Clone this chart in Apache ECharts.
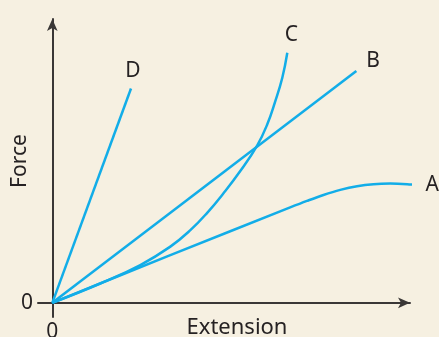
<!DOCTYPE html>
<html>
<head>
<meta charset="utf-8">
<style>
  html, body { margin: 0; padding: 0; background: #f6f0e1; }
  #chart { width: 439px; height: 337px; }
</style>
<script src="https://cdn.jsdelivr.net/npm/echarts@6/dist/echarts.min.js"></script>
</head>
<body>
<div id="chart"></div>
<script>
// Force–extension curves for four materials, [extension, force] pairs
const materialA = [[0, 0], [3.3, 1.68], [6.65, 3.36], [7.12, 3.59], [7.58, 3.8], [8.05, 3.98], [8.52, 4.11], [8.98, 4.18], [9.45, 4.2], [9.92, 4.18], [10.18, 4.15]];
const materialB = [[0, 0], [8.5, 8.17]];
const materialC = [[0, 0], [1.34, 0.68], [2.46, 1.33], [3.3, 1.98], [3.86, 2.56], [4.33, 3.17], [4.78, 3.85], [5.26, 4.65], [5.73, 5.55], [6.01, 6.29], [6.23, 7.09], [6.43, 7.93], [6.57, 8.81]];
const materialD = [[0, 0], [2.2, 7.55]];
const seriesNames = ['A', 'B', 'C', 'D'];
const seriesPoints = [materialA, materialB, materialC, materialD];
const smoothing = [0.35, 0, 0.45, 0];
const originTicks = [0];
const axisTitles = { x: 'Extension', y: 'Force' };

const INK = '#262223';
const AXIS = '#3a3736';
const LINE = '#12ade8';
const FONT = '"Noto Sans", sans-serif';

// where each series' letter sits relative to its last point
const endLabelPlacement = {
  A: { position: 'right', distance: 9, offset: [0, 0] },
  B: { position: 'right', distance: 10, offset: [0, -10] },
  C: { position: 'top', distance: 7, offset: [4, 0] },
  D: { position: 'top', distance: 7.5, offset: [2, 0] }
};

function buildSeries(name, points, smooth) {
  const last = points.length - 1;
  const data = points.map((p, i) => {
    if (i !== last) return p;
    const place = endLabelPlacement[name];
    return {
      value: p,
      label: {
        show: true,
        formatter: name,
        position: place.position,
        distance: place.distance,
        offset: place.offset,
        color: INK,
        fontFamily: FONT,
        fontSize: 21
      }
    };
  });
  return {
    name: name,
    type: 'line',
    data: data,
    smooth: smooth,
    clip: false,
    showSymbol: true,
    symbol: 'circle',
    symbolSize: 0,
    lineStyle: { color: LINE, width: 2.5 },
    itemStyle: { color: LINE },
    emphasis: { disabled: true },
    silent: true
  };
}

const chart = echarts.init(document.getElementById('chart'), null, { renderer: 'canvas' });
chart.setOption({
  backgroundColor: '#f6f0e1',
  animation: false,
  grid: { left: 38, right: 29, top: 19, bottom: 20, outerBoundsMode: 'none' },
  xAxis: {
    type: 'value',
    min: -0.4,
    max: 10,
    axisLine: {
      show: true,
      onZero: true,
      symbol: ['none', 'arrow'],
      symbolSize: [8, 12],
      lineStyle: { color: AXIS, width: 2 }
    },
    axisTick: { show: false },
    splitLine: { show: false },
    axisLabel: {
      customValues: originTicks,
      margin: 5,
      color: INK,
      fontFamily: FONT,
      fontSize: 21
    }
  },
  yAxis: {
    type: 'value',
    min: -0.5,
    max: 10,
    axisLine: {
      show: true,
      onZero: true,
      symbol: ['none', 'arrow'],
      symbolSize: [8, 12],
      lineStyle: { color: AXIS, width: 2 }
    },
    axisTick: { show: false },
    splitLine: { show: false },
    axisLabel: {
      customValues: originTicks,
      margin: 5,
      color: INK,
      fontFamily: FONT,
      fontSize: 21
    }
  },
  graphic: [
    {
      type: 'text',
      x: 237,
      y: 317,
      style: { text: axisTitles.x, fill: INK, font: '22px ' + FONT, textAlign: 'center', textVerticalAlign: 'top' }
    },
    {
      type: 'text',
      x: 20,
      y: 161,
      rotation: Math.PI / 2,
      style: { text: axisTitles.y, fill: INK, font: '21px ' + FONT, textAlign: 'center', textVerticalAlign: 'middle' }
    }
  ],
  series: seriesNames.map((n, i) => buildSeries(n, seriesPoints[i], smoothing[i]))
});
</script>
</body>
</html>
